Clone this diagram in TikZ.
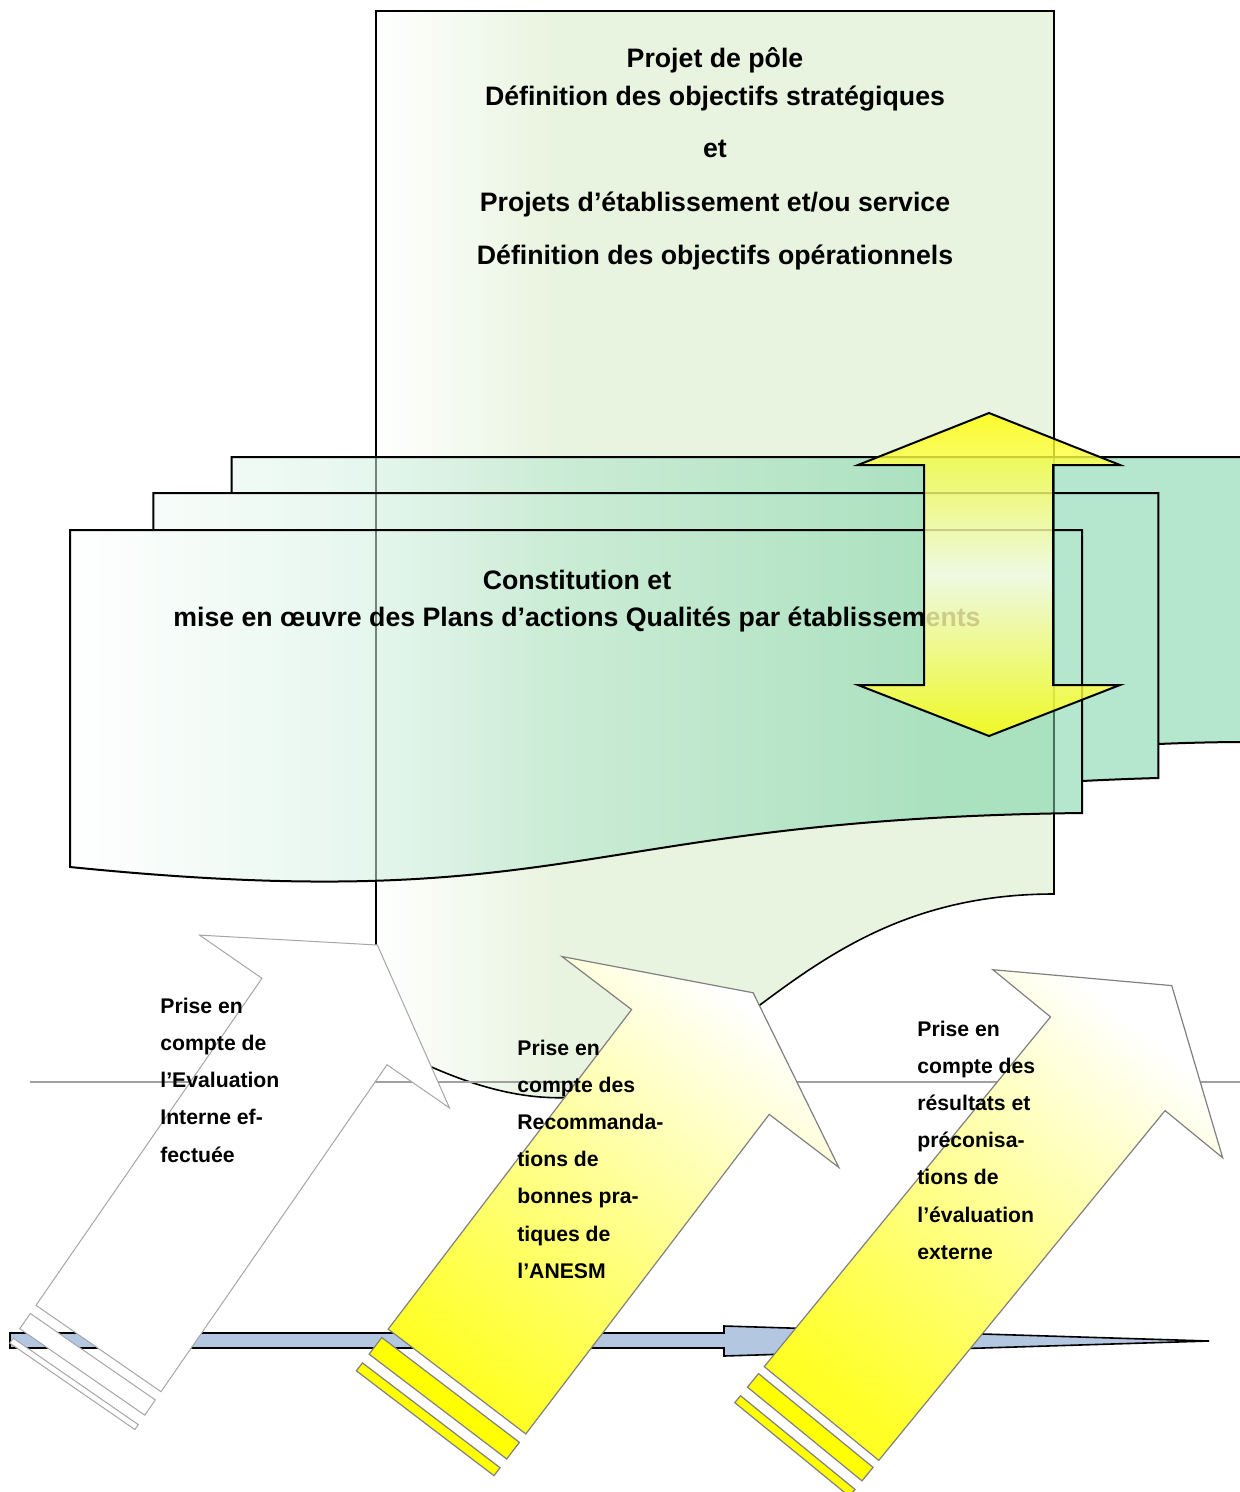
\documentclass[tikz,border=0pt]{standalone}
\usepackage{fontspec}
\setmainfont{Liberation Sans}
\definecolor{docgreen}{RGB}{233,244,224}
\definecolor{mdgreen}{RGB}{120,210,165}
\definecolor{ylw}{RGB}{255,255,0}
\definecolor{bluefill}{RGB}{180,199,225}
\definecolor{outlineA}{RGB}{166,166,166}
\definecolor{outlineY}{RGB}{128,128,128}
\definecolor{hline}{RGB}{160,160,160}
\pgfdeclarehorizontalshading{topdocshade}{100bp}{color(0bp)=(white); color(25bp)=(white); color(38bp)=(docgreen); color(100bp)=(docgreen)}
\pgfdeclarehorizontalshading{mdshade}{100bp}{color(0bp)=(white); color(25bp)=(white); color(62bp)=(mdgreen); color(100bp)=(mdgreen)}
\tikzset{
  toptext/.style={font=\bfseries\fontsize{13.35}{16}\selectfont, anchor=base, inner sep=0pt},
  atext/.style={font=\bfseries\fontsize{10.6}{12}\selectfont, anchor=base west, inner sep=0pt},
  arrowA/.style={draw=outlineA, fill=white, line width=0.5pt},
  arrowY/.style={draw=outlineY, line width=0.6pt, bottom color=ylw!85!white, top color=white, shading angle=#1},
  stripeA/.style={draw=outlineA, fill=white, line width=0.5pt},
  stripeY/.style={draw=outlineY, fill=ylw, line width=0.6pt},
}
\begin{document}
\begin{tikzpicture}[x=0.5pt,y=-0.5pt]
\clip (0,0) rectangle (1240,1492);

% top document
\shadedraw[shading=topdocshade, line width=0.8pt]
  (376,11) -- (1054,11) -- (1054,894) .. controls (715,894) and (715,1230) .. (376,1039) -- cycle;
\node[toptext] (t1) at (715,68) {Projet de pôle};
\node[toptext] (t2) at (715,106) {Définition des objectifs stratégiques};
\node[toptext] (t3) at (715,158) {et};
\node[toptext] (t4) at (715,212) {Projets d’établissement et/ou service};
\node[toptext] (t5) at (715,265) {Définition des objectifs opérationnels};

% multi-document
\shadedraw[shading=mdshade, fill opacity=0.55, line width=1pt]
  (70,867) .. controls (576,918) and (576,819) .. (1082,813) -- (1082,530) -- (70,530) -- cycle
  (153.4,530) -- (153.4,493) -- (1158.4,493) -- (1158.4,778) .. controls (1120,779) and (1082,781) .. (1082,781) -- (1082,530) -- cycle
  (231.7,493) -- (231.7,457) -- (1245.5,457) -- (1245.5,742) .. controls (1202,742) and (1158.4,744) .. (1158.4,744) -- (1158.4,493) -- cycle;
\node[toptext] (m1) at (577,589) {Constitution et};
\node[toptext] (m2) at (577,626) {mise en œuvre des Plans d’actions Qualités par établissements};

% yellow double arrow
\shadedraw[top color=ylw, bottom color=ylw, middle color=white!92!ylw, fill opacity=0.8, line width=1pt]
  (989,413) -- (1120,465) -- (1053,465) -- (1053,685) -- (1120,685) -- (989,736)
  -- (858,685) -- (924,685) -- (924,465) -- (858,465) -- cycle;

% grey horizontal line
\draw[draw=hline, line width=0.75pt] (30,1082) -- (1240,1082);

% blue timeline arrow
\draw[fill=bluefill, draw=black, line width=0.8pt]
  (10,1333) -- (724,1333) -- (724,1326) -- (1209,1341) -- (724,1356) -- (724,1348) -- (10,1348) -- cycle;

% arrow 1
\begin{scope}[shift={(98.5,1348.5)}, rotate=55.35]
  \draw[arrowA] (0,-76) -- (397.5,-76) -- (397.5,-152) -- (490.5,0) -- (397.5,152) -- (397.5,76) -- (0,76) -- cycle;
  \draw[stripeA] (-10,-76) rectangle (-28.5,76);
  \draw[stripeA] (-40,-76) rectangle (-46,76);
\end{scope}
% arrow 2
\begin{scope}[shift={(457,1381.5)}, rotate=52.7]
  \draw[arrowY=-37.3] (0,-86.5) -- (401.7,-86.5) -- (401.7,-174) -- (488.7,0) -- (401.7,174) -- (401.7,86.5) -- (0,86.5) -- cycle;
  \draw[stripeY] (-10.6,-86.5) rectangle (-31.5,86.5);
  \draw[stripeY] (-42.5,-86.5) rectangle (-52.5,86.5);
\end{scope}
% arrow 3
\begin{scope}[shift={(821.5,1413.5)}, rotate=50.7]
  \draw[arrowY=-39.3] (0,-74) -- (452,-74) -- (452,-148.5) -- (553,0) -- (452,148.5) -- (452,74) -- (0,74) -- cycle;
  \draw[stripeY] (-9,-74) rectangle (-26.5,74);
  \draw[stripeY] (-37.5,-74) rectangle (-46.5,74);
\end{scope}

% arrow texts
\foreach \t [count=\i] in {Prise en, compte de, l’Evaluation, Interne ef-, fectuée}
  \node[atext] (aa\i) at (160,{1013+37.25*(\i-1)}) {\t};
\foreach \t [count=\i] in {Prise en, compte des, Recommanda-, tions de, bonnes pra-, tiques de, l’ANESM}
  \node[atext] (ab\i) at (517,{1055+37.2*(\i-1)}) {\t};
\foreach \t [count=\i] in {Prise en, compte des, résultats et, préconisa-, tions de, l’évaluation, externe}
  \node[atext] (ac\i) at (917,{1036+37.2*(\i-1)}) {\t};
\end{tikzpicture}
\end{document}
